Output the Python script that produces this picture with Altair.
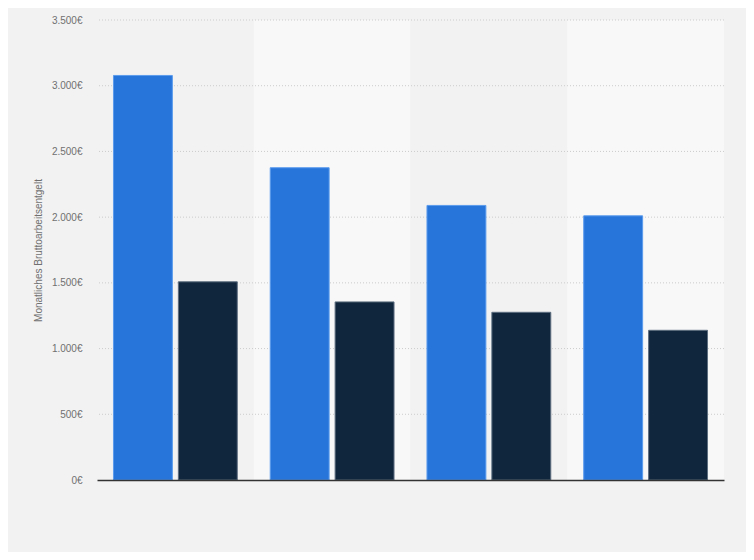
import altair as alt
import pandas as pd

categories = ["Gruppe 1", "Gruppe 2", "Gruppe 3", "Gruppe 4"]
series = ["Reihe A", "Reihe B"]
values_a = [3078, 2376, 2089, 2010]
values_b = [1508, 1355, 1276, 1139]
y_ticks = [0, 500, 1000, 1500, 2000, 2500, 3000, 3500]

rows = []
for i, c in enumerate(categories):
    rows.append({"cat": c, "series": series[0], "value": values_a[i]})
    rows.append({"cat": c, "series": series[1], "value": values_b[i]})
df = pd.DataFrame(rows)
bands = pd.DataFrame({"cat": categories, "idx": list(range(len(categories)))})
grid_df = pd.DataFrame({"tick": [t for t in y_ticks if t > 0]})

FONT = "Liberation Sans"
x_scale = alt.Scale(domain=categories, paddingInner=0, paddingOuter=0)
y_scale = alt.Scale(domain=[0, 3500], nice=False)
x_axis = alt.Axis(title=None, labels=False, ticks=False, domain=True,
                  domainColor="#333333", domainWidth=1.5, grid=False)
y_axis = alt.Axis(title="Monatliches Bruttoarbeitsentgelt", values=y_ticks,
                  labelExpr="replace(format(datum.value, ',.0f'), ',', '.') + '€'",
                  labelFont=FONT, labelFontSize=10, labelColor="#707070",
                  labelPadding=15, ticks=False, domain=False, grid=False,
                  titleFont=FONT, titleFontSize=10, titleFontWeight="normal",
                  titleColor="#707070", titlePadding=8)

bg = alt.Chart(bands).transform_calculate(
    parity="datum.idx % 2 == 0 ? 'a' : 'b'"
).mark_rect().encode(
    x=alt.X("cat:N", scale=x_scale, axis=x_axis),
    y=alt.datum(3500, type="quantitative", scale=y_scale, axis=y_axis),
    y2=alt.datum(0),
    color=alt.Color("parity:N", scale=alt.Scale(domain=["a", "b"], range=["#f2f2f2", "#f8f8f8"]), legend=None),
)

grid = alt.Chart(grid_df).mark_rule(color="#cccccc", strokeDash=[1, 2], strokeWidth=1).encode(
    y=alt.Y("tick:Q", scale=y_scale, axis=y_axis),
)

bars = alt.Chart(df).mark_bar(strokeWidth=1).encode(
    x=alt.X("cat:N", scale=x_scale, axis=x_axis),
    xOffset=alt.XOffset("series:N", scale=alt.Scale(domain=series, paddingInner=0.092, paddingOuter=0.254)),
    y=alt.Y("value:Q", scale=y_scale, axis=y_axis),
    color=alt.Color("series:N", scale=alt.Scale(domain=series, range=["#2775db", "#10263c"]), legend=None),
    stroke=alt.Stroke("series:N", scale=alt.Scale(domain=series, range=["#5c9cec", "#5d6e80"]), legend=None),
)

chart = alt.layer(bg, grid, bars).resolve_scale(color="independent").properties(
    width=627, height=460,
    autosize=alt.AutoSizeParams(type="none"),
    padding={"left": 89, "top": 12, "right": 22, "bottom": 72},
    background="#f2f2f2",
).configure_view(stroke=None)

chart.save("out.html", embed_options={"renderer": "svg", "actions": False})
